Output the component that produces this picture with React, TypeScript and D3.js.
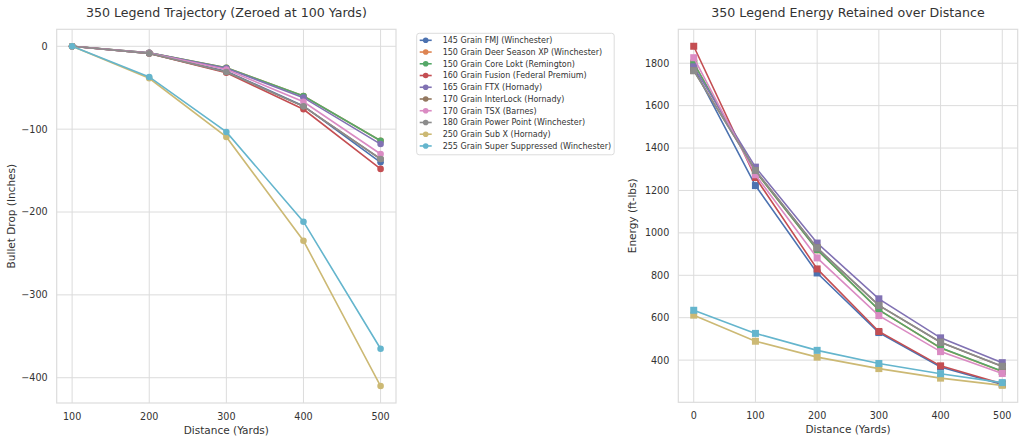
import * as d3 from 'd3';

// ammunition loads, in legend order
const loadNames = [
  '145 Grain FMJ (Winchester)',
  '150 Grain Deer Season XP (Winchester)',
  '150 Grain Core Lokt (Remington)',
  '160 Grain Fusion (Federal Premium)',
  '165 Grain FTX (Hornady)',
  '170 Grain InterLock (Hornady)',
  '170 Grain TSX (Barnes)',
  '180 Grain Power Point (Winchester)',
  '250 Grain Sub X (Hornady)',
  '255 Grain Super Suppressed (Winchester)',
];
const palette = ['#4C72B0', '#DD8452', '#55A868', '#C44E52', '#8172B3', '#937860', '#DA8BC3', '#8C8C8C', '#CCB974', '#64B5CD'];

// trajectory (inches), zeroed at 100 yd
const dropDistances = [100, 200, 300, 400, 500];
const dropFmj145 = [0, -8.5, -30, -72, -140];
const dropDeerXp150 = [0, -7.8, -26, -60, -114];
const dropCoreLokt150 = [0, -7.8, -26, -60, -114];
const dropFusion160 = [0, -8.8, -32, -76, -148];
const dropFtx165 = [0, -7.9, -26.5, -62, -118];
const dropInterLock170 = [0, -8.6, -31, -72.5, -136];
const dropTsx170 = [0, -8.2, -28, -67, -130];
const dropPowerPoint180 = [0, -8.6, -31, -72.5, -136];
const dropSubX250 = [0, -38.6, -109.4, -234.7, -410];
const dropSuperSupp255 = [0, -37, -103.4, -211.7, -365];
const dropTicksX = [100, 200, 300, 400, 500];
const dropTicksY = [0, -100, -200, -300, -400];

// energy (ft-lbs)
const energyDistances = [0, 100, 200, 300, 400, 500];
const energyFmj145 = [1778, 1223, 811, 530, 368, 285];
const energyDeerXp150 = [1800, 1290, 920, 637, 457, 346];
const energyCoreLokt150 = [1800, 1290, 921, 637, 458, 347];
const energyFusion160 = [1880, 1261, 830, 535, 373, 289];
const energyFtx165 = [1783, 1310, 952, 689, 505, 388];
const energyInterLock170 = [1765, 1294, 929, 658, 484, 370];
const energyTsx170 = [1826, 1274, 882, 610, 440, 337];
const energyPowerPoint180 = [1765, 1294, 929, 658, 484, 371];
const energySubX250 = [612, 489, 414, 360, 315, 281];
const energySuperSupp255 = [635, 526, 446, 384, 336, 294];
const energyTicksX = [0, 100, 200, 300, 400, 500];
const energyTicksY = [400, 600, 800, 1000, 1200, 1400, 1600, 1800];

const dropSeries = [dropFmj145, dropDeerXp150, dropCoreLokt150, dropFusion160, dropFtx165, dropInterLock170, dropTsx170, dropPowerPoint180, dropSubX250, dropSuperSupp255];
const energySeries = [energyFmj145, energyDeerXp150, energyCoreLokt150, energyFusion160, energyFtx165, energyInterLock170, energyTsx170, energyPowerPoint180, energySubX250, energySuperSupp255];

const FONT = '"DejaVu Sans", sans-serif';
const GRID = '#dcdcdc';
const TEXT = '#333333';

const padded = (values: number[]): [number, number] => {
  const [lo, hi] = d3.extent(values) as [number, number];
  const pad = (hi - lo) * 0.05;
  return [lo - pad, hi + pad];
};

interface PanelProps {
  left: number;
  right: number;
  top: number;
  bottom: number;
  xs: number[];
  series: number[][];
  ticksX: number[];
  ticksY: number[];
  title: string;
  xLabel: string;
  yLabel: string;
  marker: 'circle' | 'square';
}

function Panel({ left, right, top, bottom, xs, series, ticksX, ticksY, title, xLabel, yLabel, marker }: PanelProps) {
  const x = d3.scaleLinear().domain(padded(xs)).range([left, right]);
  const y = d3.scaleLinear().domain(padded(series.flat())).range([bottom, top]);
  const line = d3.line<number>().x((_, i) => x(xs[i])).y(v => y(v));
  const fmt = (v: number) => (v < 0 ? `\u2212${Math.abs(v)}` : `${v}`);
  const cx = (left + right) / 2;
  const cy = (top + bottom) / 2;

  return (
    <g>
      <rect x={left} y={top} width={right - left} height={bottom - top} fill="#fff" stroke={GRID} strokeWidth={1.2} />
      {ticksX.map(t => (
        <g key={`gx${t}`}>
          <line x1={x(t)} x2={x(t)} y1={top} y2={bottom} stroke={GRID} strokeWidth={1} />
          <text x={x(t)} y={bottom + 16.5} textAnchor="middle" fontSize={9.6} fill={TEXT} fontFamily={FONT}>{fmt(t)}</text>
        </g>
      ))}
      {ticksY.map(t => (
        <g key={`gy${t}`}>
          <line x1={left} x2={right} y1={y(t)} y2={y(t)} stroke={GRID} strokeWidth={1} />
          <text x={left - 9} y={y(t) + 3.4} textAnchor="end" fontSize={9.6} fill={TEXT} fontFamily={FONT}>{fmt(t)}</text>
        </g>
      ))}
      {series.map((vals, si) => (
        <g key={`s${si}`}>
          <path d={line(vals) ?? ''} fill="none" stroke={palette[si]} strokeWidth={1.6} />
          {vals.map((v, i) =>
            marker === 'circle' ? (
              <circle key={i} cx={x(xs[i])} cy={y(v)} r={3.3} fill={palette[si]} />
            ) : (
              <rect key={i} x={x(xs[i]) - 3.5} y={y(v) - 3.5} width={7} height={7} fill={palette[si]} />
            )
          )}
        </g>
      ))}
      <text x={cx} y={16.5} textAnchor="middle" fontSize={12.6} fill={TEXT} fontFamily={FONT}>{title}</text>
      <text x={cx} y={bottom + 30.5} textAnchor="middle" fontSize={10.5} fill={TEXT} fontFamily={FONT}>{xLabel}</text>
      <text transform={`translate(${left - 42},${cy}) rotate(-90)`} textAnchor="middle" fontSize={10.5} fill={TEXT} fontFamily={FONT}>{yLabel}</text>
    </g>
  );
}

function Legend({ x0, y0 }: { x0: number; y0: number }) {
  const rowH = 11.74;
  return (
    <g>
      <rect x={x0} y={y0} width={197.5} height={121.5} rx={2.5} fill="#fff" stroke={GRID} strokeWidth={1} />
      {loadNames.map((name, i) => {
        const ry = y0 + 7 + i * rowH;
        return (
          <g key={name}>
            <line x1={x0 + 3} x2={x0 + 15} y1={ry} y2={ry} stroke={palette[i]} strokeWidth={1.6} />
            <circle cx={x0 + 9} cy={ry} r={2.8} fill={palette[i]} />
            <text x={x0 + 26} y={ry + 2.8} fontSize={8} fill={TEXT} fontFamily={FONT}>{name}</text>
          </g>
        );
      })}
    </g>
  );
}

export default function App() {
  return (
    <div style={{ position: 'absolute', left: 0, top: 0, width: 1024, height: 442, background: '#fff' }}>
      <svg width={1024} height={442} viewBox="0 0 1024 442">
        <rect width={1024} height={442} fill="#fff" />
        <Panel
          left={56.7}
          right={396}
          top={29.3}
          bottom={403}
          xs={dropDistances}
          series={dropSeries}
          ticksX={dropTicksX}
          ticksY={dropTicksY}
          title="350 Legend Trajectory (Zeroed at 100 Yards)"
          xLabel="Distance (Yards)"
          yLabel="Bullet Drop (Inches)"
          marker="circle"
        />
        <Legend x0={416.7} y0={33.3} />
        <Panel
          left={678.3}
          right={1017.7}
          top={29.3}
          bottom={402.3}
          xs={energyDistances}
          series={energySeries}
          ticksX={energyTicksX}
          ticksY={energyTicksY}
          title="350 Legend Energy Retained over Distance"
          xLabel="Distance (Yards)"
          yLabel="Energy (ft-lbs)"
          marker="square"
        />
      </svg>
    </div>
  );
}
